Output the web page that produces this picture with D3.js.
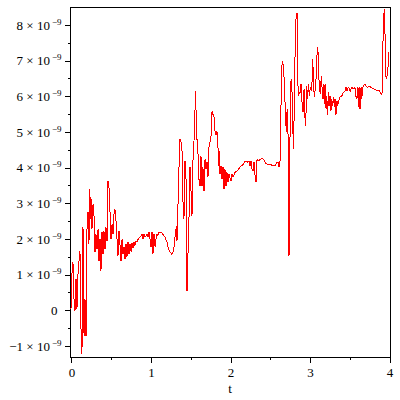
<!DOCTYPE html>
<html>
<head>
<meta charset="utf-8">
<script src="https://cdn.jsdelivr.net/npm/d3@7"></script>
<style>
    body { margin: 0; background: #fff; }
    svg { display: block; }
</style>
</head>
<body>
<div id="chart"></div>
<script>
// values of the curve, y in units of 10^-9
const series = [
    [0.000,0.03],[0.013,1.07],[0.025,1.35],[0.038,0.31],[0.050,-0.03],[0.063,0.87],[0.075,0.03],[0.088,1.01],
    [0.100,1.37],[0.113,1.65],[0.126,-0.53],[0.138,-1.23],[0.151,2.33],[0.164,-0.73],[0.176,0.31],[0.189,-0.73],
    [0.201,2.27],[0.214,2.75],[0.226,1.85],[0.236,3.39],[0.248,2.55],[0.258,3.11],[0.264,2.27],[0.277,2.97],
    [0.289,2.69],[0.302,1.63],[0.314,2.13],[0.327,1.71],[0.340,2.27],[0.352,1.37],[0.365,1.99],[0.377,1.09],
    [0.390,2.19],[0.403,1.57],[0.415,2.21],[0.428,1.71],[0.440,2.33],[0.453,1.93],[0.465,3.62],[0.478,3.45],
    [0.491,2.75],[0.503,1.99],[0.516,2.41],[0.528,2.13],[0.541,2.69],[0.553,2.83],[0.566,2.50],[0.579,1.99],
    [0.591,1.51],[0.604,2.21],[0.616,1.85],[0.629,1.37],[0.642,1.99],[0.654,1.57],[0.667,1.77],[0.679,1.43],
    [0.692,1.85],[0.704,1.49],[0.717,1.91],[0.730,1.57],[0.742,1.85],[0.755,1.65],[0.767,1.88],[0.780,1.74],
    [0.792,1.91],[0.805,1.82],[0.818,1.93],[0.830,1.93],[0.843,1.99],
    [0.868,2.05],[0.893,2.13],[0.906,1.99],[0.918,2.13],[0.931,2.05],[0.943,2.07],[0.956,2.13],[0.969,2.05],
    [0.981,2.19],[0.994,1.99],[1.006,1.77],[1.019,2.19],[1.031,1.57],[1.044,2.13],[1.057,1.79],[1.069,1.99],
    [1.082,2.13],[1.094,2.10],[1.107,2.19],[1.132,2.19],[1.157,2.13],[1.182,2.05],[1.208,1.91],[1.220,1.77],
    [1.245,1.63],[1.270,1.57],[1.283,1.63],[1.296,1.77],[1.308,2.05],[1.317,2.21],[1.325,2.35],[1.333,1.93],
    [1.342,2.64],[1.359,4.04],[1.371,4.79],[1.384,4.71],[1.396,4.51],[1.409,3.03],[1.421,2.55],[1.434,4.18],
    [1.447,3.67],[1.459,0.53],[1.472,1.63],[1.484,2.55],[1.497,4.01],[1.509,3.39],[1.522,2.64],[1.535,4.23],
    [1.547,4.74],[1.560,5.64],[1.563,6.14],[1.572,5.64],[1.585,4.79],[1.597,4.43],[1.610,3.67],[1.623,3.48],
    [1.635,4.32],[1.648,3.48],[1.660,4.01],[1.673,3.34],[1.686,4.23],[1.698,3.95],[1.711,4.15],[1.723,3.73],
    [1.736,4.57],[1.761,4.88],[1.774,5.58],[1.786,5.49],[1.799,5.41],[1.811,5.02],[1.824,4.93],[1.836,5.02],
    [1.849,4.57],[1.862,4.04],[1.868,4.46],[1.874,3.81],[1.887,4.04],[1.899,3.67],[1.912,4.01],[1.925,3.39],
    [1.937,3.95],[1.950,3.48],[1.962,3.87],[1.975,3.59],[1.987,3.81],[2.013,3.62],[2.025,3.81],[2.038,3.73],
    [2.063,3.87],[2.088,3.90],[2.113,3.98],[2.138,4.04],[2.164,4.09],[2.189,4.18],[2.214,4.18],[2.226,4.15],
    [2.239,4.18],[2.252,4.04],[2.264,4.18],[2.277,3.95],[2.289,3.90],[2.302,4.15],[2.314,3.81],[2.327,3.59],
    [2.340,4.23],[2.352,4.18],[2.377,4.23],[2.403,4.26],[2.428,4.21],[2.453,4.12],[2.478,4.09],[2.503,4.09],
    [2.528,4.07],[2.553,4.07],[2.566,4.04],[2.587,4.15],[2.604,4.15],[2.616,4.01],[2.629,4.18],[2.638,4.74],
    [2.645,6.62],[2.658,6.98],[2.667,6.90],[2.679,6.56],[2.692,5.83],[2.701,5.35],[2.708,4.99],[2.717,5.55],
    [2.726,5.64],[2.733,4.32],[2.742,1.51],[2.750,2.64],[2.758,6.20],[2.767,6.42],[2.776,6.48],[2.783,5.83],
    [2.792,4.99],[2.801,4.51],[2.809,6.00],[2.818,7.12],[2.830,8.16],[2.843,8.35],[2.852,6.56],[2.859,6.00],
    [2.868,6.06],[2.881,6.11],[2.893,6.34],[2.906,5.83],[2.918,5.55],[2.931,6.20],[2.943,5.41],[2.952,5.16],
    [2.965,6.28],[2.977,5.92],[2.985,6.34],[2.998,6.00],[3.010,6.25],[3.028,6.14],[3.041,7.04],[3.048,6.56],
    [3.060,5.97],[3.073,6.20],[3.086,6.62],[3.098,7.37],[3.107,7.23],[3.114,6.76],[3.123,6.28],[3.136,6.06],
    [3.148,6.56],[3.157,6.28],[3.170,5.92],[3.182,6.34],[3.195,5.78],[3.199,6.34],[3.208,5.64],[3.217,6.00],
    [3.229,5.49],[3.237,6.11],[3.245,5.72],[3.258,6.00],[3.270,5.58],[3.279,5.92],[3.292,5.72],[3.304,5.97],
    [3.312,5.69],[3.321,5.92],[3.333,5.49],[3.346,5.86],[3.355,5.72],[3.362,5.83],[3.375,5.92],[3.388,6.00],
    [3.405,6.00],[3.425,6.11],[3.447,6.14],[3.459,6.25],[3.472,6.14],[3.488,6.25],[3.501,6.22],[3.513,6.14],
    [3.531,6.25],[3.547,6.22],[3.560,6.20],[3.572,6.25],[3.585,5.97],[3.594,5.92],[3.606,6.25],[3.614,5.69],
    [3.623,6.25],[3.635,5.64],[3.648,6.25],[3.657,5.92],[3.669,6.25],[3.682,6.31],[3.698,6.34],[3.714,6.28],
    [3.732,6.25],[3.752,6.28],[3.774,6.25],[3.790,6.22],[3.815,6.20],[3.845,6.17],[3.874,6.17],[3.896,6.08],
    [3.908,6.06],[3.916,6.14],[3.921,7.12],[3.929,8.07],[3.941,8.44],[3.950,7.74],[3.959,6.62],[3.966,6.48],
    [3.975,6.56],[3.984,6.62],[3.991,7.04],[4.000,7.23]
];

const xTicks = [0, 1, 2, 3, 4];
const xMinorTicks = [0.5, 1.5, 2.5, 3.5];
const yTicks = [-1, 0, 1, 2, 3, 4, 5, 6, 7, 8];
const yMinorTicks = [-0.5, 0.5, 1.5, 2.5, 3.5, 4.5, 5.5, 6.5, 7.5];
const yExponent = "−9";
const xLabel = "t";

const font = "\"Liberation Serif\", \"Times New Roman\", serif";

const margin = {top: 7, right: 10, bottom: 43, left: 70};
const width = 400 - margin.left - margin.right;
const height = 400 - margin.top - margin.bottom;

const svg = d3.select("#chart").append("svg")
    .attr("width", 400)
    .attr("height", 400)
    .append("g")
    .attr("transform", "translate(" + margin.left + "," + margin.top + ")");

const x = d3.scaleLinear().domain([-0.0125, 4.0125]).range([0, width]);
const y = d3.scaleLinear().domain([-1.31, 8.505]).range([height, 0]);

// frame
svg.append("rect")
    .attr("x", 0.5).attr("y", 0.5)
    .attr("width", width).attr("height", height)
    .attr("fill", "none").attr("stroke", "#000")
    .attr("shape-rendering", "crispEdges");

// minor ticks
svg.append("g")
    .attr("transform", "translate(0.5," + height + ")")
    .call(d3.axisBottom(x).tickValues(xMinorTicks).tickSize(3).tickFormat(""))
    .call(g => g.select(".domain").remove());

svg.append("g")
    .attr("transform", "translate(0.5,0)")
    .call(d3.axisLeft(y).tickValues(yMinorTicks).tickSize(3).tickFormat(""))
    .call(g => g.select(".domain").remove());

// major ticks
const xAxis = svg.append("g")
    .attr("transform", "translate(0.5," + height + ")")
    .call(d3.axisBottom(x).tickValues(xTicks).tickSize(6).tickPadding(5).tickFormat(d3.format("d")))
    .call(g => g.select(".domain").remove());

const yAxis = svg.append("g")
    .attr("transform", "translate(0.5,0)")
    .call(d3.axisLeft(y).tickValues(yTicks).tickSize(6).tickPadding(3).tickFormat(""))
    .call(g => g.select(".domain").remove());

xAxis.selectAll(".tick text")
    .style("font-family", font)
    .style("font-size", "13px");

yAxis.selectAll(".tick text")
    .style("font-family", font)
    .style("font-size", "13px")
    .each(function(d) {
        const t = d3.select(this);
        if (d === 0) {
            t.attr("dx", "-4").text("0");
            return;
        }
        t.text((d < 0 ? "−" + (-d) : d) + " × 10");
        t.append("tspan")
            .attr("dx", "2")
            .attr("dy", "-5")
            .style("font-size", "9px")
            .text(yExponent);
    });

svg.selectAll(".tick line").attr("shape-rendering", "crispEdges");

// axis title
svg.append("text")
    .attr("x", x(2))
    .attr("y", height + 36)
    .style("text-anchor", "middle")
    .style("font-family", font)
    .style("font-size", "13px")
    .text(xLabel);

// curve
const line = d3.line()
    .x(d => x(d[0]))
    .y(d => y(d[1]));

svg.append("path")
    .datum(series)
    .attr("fill", "none")
    .attr("stroke", "#ff0000")
    .attr("stroke-width", 1)
    .attr("shape-rendering", "crispEdges")
    .attr("d", line);
</script>
</body>
</html>
